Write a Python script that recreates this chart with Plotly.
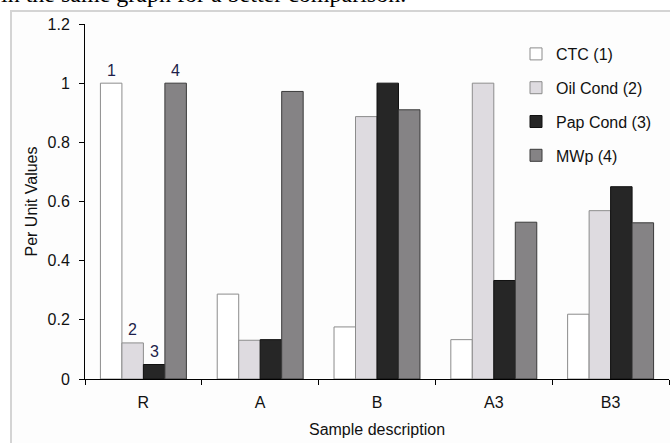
import plotly.graph_objects as go

samples = ["R", "A", "B", "A3", "B3"]
ctc = [1.0, 0.287, 0.176, 0.133, 0.219]
oil_cond = [0.122, 0.131, 0.887, 1.0, 0.569]
pap_cond = [0.049, 0.133, 1.0, 0.333, 0.650]
mwp = [1.0, 0.972, 0.910, 0.530, 0.528]

series_names = ["CTC (1)", "Oil Cond (2)", "Pap Cond (3)", "MWp (4)"]
series_tags = ["1", "2", "3", "4"]  # numbers written above the R bars

W, H = 670, 443
L, R, T, B = 85, 1, 24, 64
pw, ph = W - L - R, H - T - B


def px_x(x):
    return (x - L) / pw


def px_y(y):
    return 1 - (y - T) / ph


fills = ["#ffffff", "#dedbe0", "#262626", "#858385"]
edges = ["#8c8c8c", "#8c8c8c", "#111111", "#3a3a3a"]
bargap = 0.264

fig = go.Figure()
all_series = [ctc, oil_cond, pap_cond, mwp]
for i, (name, vals) in enumerate(zip(series_names, all_series)):
    fig.add_trace(
        go.Bar(
            x=samples,
            y=vals,
            name=name,
            legendgroup=name,
            marker=dict(color=fills[i], line=dict(color=edges[i], width=1)),
        )
    )

font = dict(family="Liberation Sans, Arial", size=16, color="#111111")

# tag numbers above the first group's bars
bar_px = pw / len(samples) * (1 - bargap) / len(all_series)
annotations = []
for i, vals in enumerate(all_series):
    annotations.append(
        dict(
            x=samples[0],
            y=vals[0],
            xref="x",
            yref="y",
            xshift=(i - 1.5) * bar_px,
            yshift=13,
            yanchor="middle",
            text=series_tags[i],
            showarrow=False,
            font=dict(family="Liberation Sans, Arial", size=16, color="#1e1e4a"),
        )
    )
annotations.append(
    dict(
        text="in the same graph for a better comparison.",
        xref="paper",
        yref="paper",
        x=px_x(-1),
        y=px_y(-6),
        xanchor="left",
        yanchor="middle",
        showarrow=False,
        font=dict(family="Liberation Serif, Times New Roman", size=24, color="black"),
    )
)

fig.update_layout(
    width=W,
    height=H,
    margin=dict(l=L, r=R, t=T, b=B),
    paper_bgcolor="white",
    plot_bgcolor="rgba(0,0,0,0)",
    font=font,
    barmode="group",
    bargap=bargap,
    bargroupgap=0,
    showlegend=True,
    legend=dict(
        x=px_x(516),
        y=px_y(37),
        xanchor="left",
        yanchor="top",
        traceorder="grouped",
        tracegroupgap=10,
        bgcolor="rgba(0,0,0,0)",
        font=dict(family="Liberation Sans, Arial", size=16, color="#111111"),
    ),
    xaxis=dict(
        title=dict(text="Sample description", font=font, standoff=13),
        showline=True,
        linecolor="black",
        linewidth=1,
        ticks="outside",
        ticklen=5,
        tickcolor="black",
        tickson="boundaries",
        showgrid=False,
        tickfont=font,
        ticklabelstandoff=9,
    ),
    yaxis=dict(
        title=dict(text="Per Unit Values", font=font, standoff=5),
        range=[0, 1.2],
        dtick=0.2,
        showline=True,
        linecolor="black",
        linewidth=1,
        ticks="outside",
        ticklen=5,
        tickcolor="black",
        showgrid=False,
        zeroline=False,
        tickfont=font,
        ticklabelstandoff=6,
    ),
    shapes=[
        dict(
            type="rect",
            xref="paper",
            yref="paper",
            x0=px_x(11),
            x1=px_x(700),
            y0=px_y(470),
            y1=px_y(11),
            line=dict(color="#d4d4d4", width=2),
            fillcolor="#fdfdfd",
            layer="below",
        )
    ],
    annotations=annotations,
)

fig.write_html(
    "out.html",
    config={"displayModeBar": False},
    post_script="document.body.style.margin = '0';",
)
